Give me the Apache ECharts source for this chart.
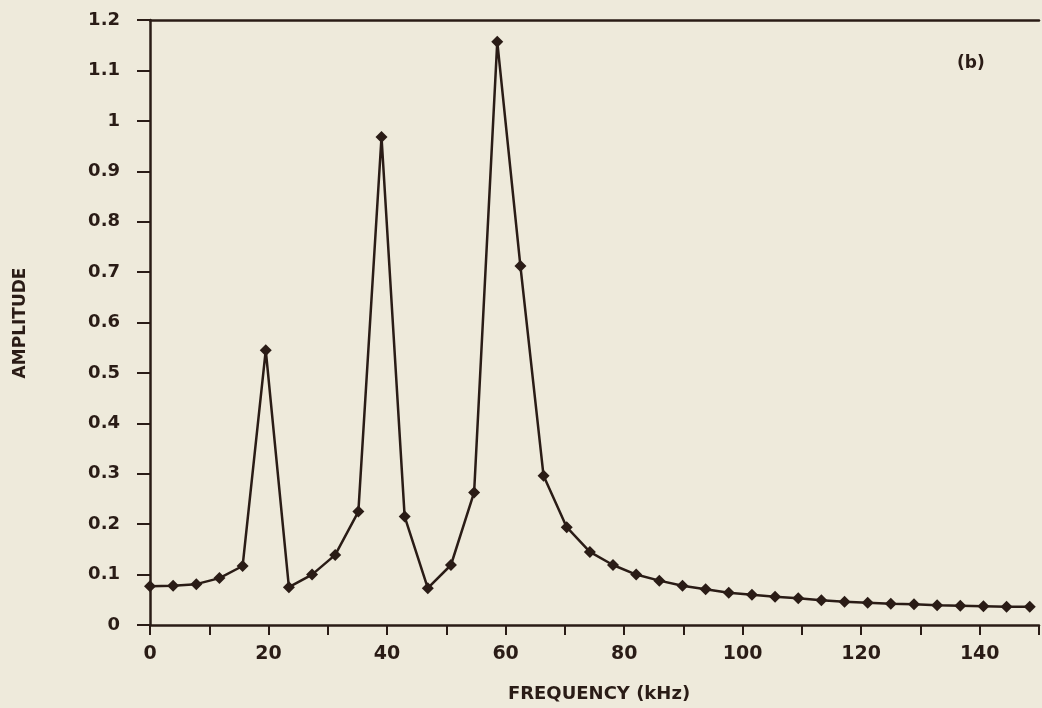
<!DOCTYPE html>
<html>
<head>
<meta charset="utf-8">
<script src="https://cdn.jsdelivr.net/npm/echarts@6/dist/echarts.min.js"></script>
<style>
html,body{margin:0;padding:0;background:#eeeadb;}
#chart{width:1042px;height:708px;}
</style>
</head>
<body>
<div id="chart"></div>
<script>
// Frequency step (kHz) between spectral samples
const freqStep = 3.90625;
const amplitudes = [
  0.077, 0.078, 0.081, 0.093, 0.117, 0.545, 0.075, 0.100, 0.139, 0.225,
  0.968, 0.215, 0.073, 0.119, 0.263, 1.157, 0.712, 0.296, 0.194, 0.145,
  0.119, 0.100, 0.088, 0.078, 0.071, 0.064, 0.060, 0.056, 0.053, 0.049,
  0.046, 0.044, 0.042, 0.041, 0.039, 0.038, 0.037, 0.036, 0.036
];
const xTickLabels = [0, 20, 40, 60, 80, 100, 120, 140];
const yTickLabels = ['0','0.1','0.2','0.3','0.4','0.5','0.6','0.7','0.8','0.9','1','1.1','1.2'];
const panelLabel = '(b)';
const xTitle = 'FREQUENCY (kHz)';
const yTitle = 'AMPLITUDE';

const ink = '#2a1c16';
const fontFam = '"DejaVu Sans", "Liberation Sans", sans-serif';

const points = amplitudes.map((v, i) => [i * freqStep, v]);

const chart = echarts.init(document.getElementById('chart'), null, {renderer: 'canvas'});
chart.setOption({
  backgroundColor: '#eeeadb',
  animation: false,
  grid: {left: 150, right: 0, top: 20, bottom: 83, containLabel: false},
  xAxis: [{
    type: 'value', min: 0, max: 150, interval: 10,
    axisLine: {show: true, onZero: false, lineStyle: {color: ink, width: 2.5}},
    axisTick: {show: true, length: 10, lineStyle: {color: ink, width: 2}},
    splitLine: {show: false},
    axisLabel: {
      margin: 20, color: ink, fontSize: 19, fontWeight: 'bold', fontFamily: fontFam,
      formatter: v => xTickLabels.includes(v) ? String(v) : ''
    }
  }, {
    type: 'value', min: 0, max: 150, position: 'top',
    axisLine: {show: true, onZero: false, lineStyle: {color: ink, width: 2.5}},
    axisTick: {show: false}, axisLabel: {show: false}, splitLine: {show: false}
  }],
  yAxis: {
    type: 'value', min: 0, max: 1.2, interval: 0.1,
    axisLine: {show: true, onZero: false, lineStyle: {color: ink, width: 2.5}},
    axisTick: {show: true, length: 13, lineStyle: {color: ink, width: 2}},
    splitLine: {show: false},
    axisLabel: {
      margin: 30, color: ink, fontSize: 18, fontWeight: 'bold', fontFamily: fontFam,
      formatter: v => yTickLabels[Math.round(v * 10)] || ''
    }
  },
  graphic: [
    {type: 'text', left: 957, top: 55, style: {text: panelLabel, fill: ink, font: 'bold 17px ' + fontFam}},
    {type: 'text', x: 599, y: 694, style: {text: xTitle, fill: ink, font: 'bold 18px ' + fontFam, letterSpacing: 2.5, align: 'center', verticalAlign: 'middle'}},
    {type: 'text', x: 21, y: 323, rotation: Math.PI / 2, style: {text: yTitle, fill: ink, font: 'bold 17px ' + fontFam, letterSpacing: 1, align: 'center', verticalAlign: 'middle'}}
  ],
  series: [{
    type: 'line', data: points, xAxisIndex: 0,
    symbol: 'diamond', symbolSize: 12, showSymbol: true,
    lineStyle: {color: ink, width: 2.5},
    itemStyle: {color: ink, borderWidth: 0},
    clip: false
  }]
});
</script>
</body>
</html>
